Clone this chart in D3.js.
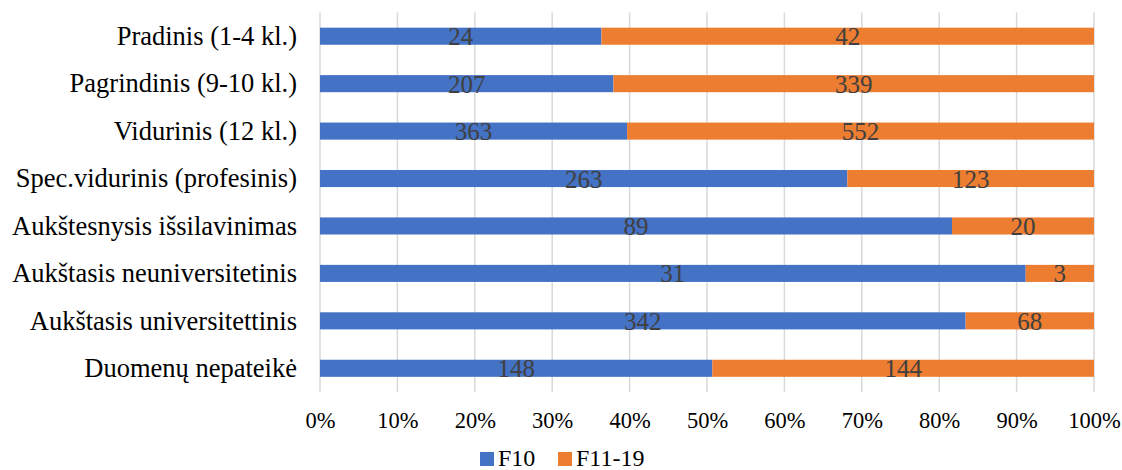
<!DOCTYPE html>
<html><head><meta charset="utf-8">
<script src="https://cdn.jsdelivr.net/npm/d3@7"></script>
<style>body{margin:0;background:#fff}svg{display:block}text{font-family:"Liberation Serif","Times New Roman",serif}</style>
</head><body>
<svg id="c" width="1122" height="470"></svg>
<script>
const categories = ["Pradinis (1-4 kl.)","Pagrindinis (9-10 kl.)","Vidurinis (12 kl.)","Spec.vidurinis (profesinis)","Aukštesnysis išsilavinimas","Aukštasis neuniversitetinis","Aukštasis universitettinis","Duomenų nepateikė"];
const seriesNames = ["F10","F11-19"];
const f10 = [24,207,363,263,89,31,342,148];
const f1119 = [42,339,552,123,20,3,68,144];
const tickLabels = [0,0.1,0.2,0.3,0.4,0.5,0.6,0.7,0.8,0.9,1];
const colors = ["#4472C4","#ED7D31"];

const FONT = "Liberation Serif, Times New Roman, serif";
const svg = d3.select("#c");
const m = {left:320, right:1094, top:12.5, bottom:392};
const x = d3.scaleLinear().domain([0,1]).range([m.left,m.right]);
const y = d3.scaleBand().domain(categories).range([m.top,m.bottom]).paddingInner(0.64).paddingOuter(0.32);

// gridlines
svg.append("g").selectAll("line").data(tickLabels).join("line")
  .attr("x1",d=>x(d)).attr("x2",d=>x(d)).attr("y1",m.top).attr("y2",m.bottom)
  .attr("stroke","#d9d9d9").attr("stroke-width",1.5);

const rows = categories.map((c,i)=>({cat:c, F10:f10[i], "F11-19":f1119[i]}));
const stack = d3.stack().keys(seriesNames).offset(d3.stackOffsetExpand);
const layers = stack(rows);

layers.forEach((layer,li)=>{
  const g = svg.append("g");
  g.selectAll("rect").data(layer).join("rect")
    .attr("x",d=>x(d[0])).attr("width",d=>x(d[1])-x(d[0]))
    .attr("y",d=>y(d.data.cat)).attr("height",y.bandwidth())
    .attr("fill",colors[li]);
  g.selectAll("text").data(layer).join("text")
    .attr("x",d=>(x(d[0])+x(d[1]))/2).attr("y",d=>y(d.data.cat)+y.bandwidth()/2+9)
    .attr("text-anchor","middle").attr("font-size",25).attr("font-family",FONT).attr("fill","#404040")
    .text(d=>d.data[layer.key]);
});

// category labels
const ya = d3.axisLeft(y).tickSize(0).tickPadding(23);
const yg = svg.append("g").attr("transform",`translate(${m.left},0)`).call(ya);
yg.select(".domain").remove();
yg.attr("font-family",FONT).attr("font-size",26.5);
yg.selectAll("text").attr("fill","#000").attr("dy","0.33em");

// x axis labels
const xa = d3.axisBottom(x).tickValues(tickLabels).tickFormat(d3.format(".0%")).tickSize(0).tickPadding(20);
const xg = svg.append("g").attr("transform",`translate(0,${m.bottom})`).call(xa);
xg.select(".domain").remove();
xg.attr("font-family",FONT).attr("font-size",22.5);
xg.selectAll("text").attr("fill","#000");

// legend
const leg = svg.append("g");
const lx = [480,558];
seriesNames.forEach((s,i)=>{
  leg.append("rect").attr("x",lx[i]).attr("y",452).attr("width",14).attr("height",14).attr("fill",colors[i]);
  leg.append("text").attr("x",lx[i]+18).attr("y",466).attr("font-size",24).attr("font-family",FONT).attr("fill","#000").text(s);
});
</script>
</body></html>
